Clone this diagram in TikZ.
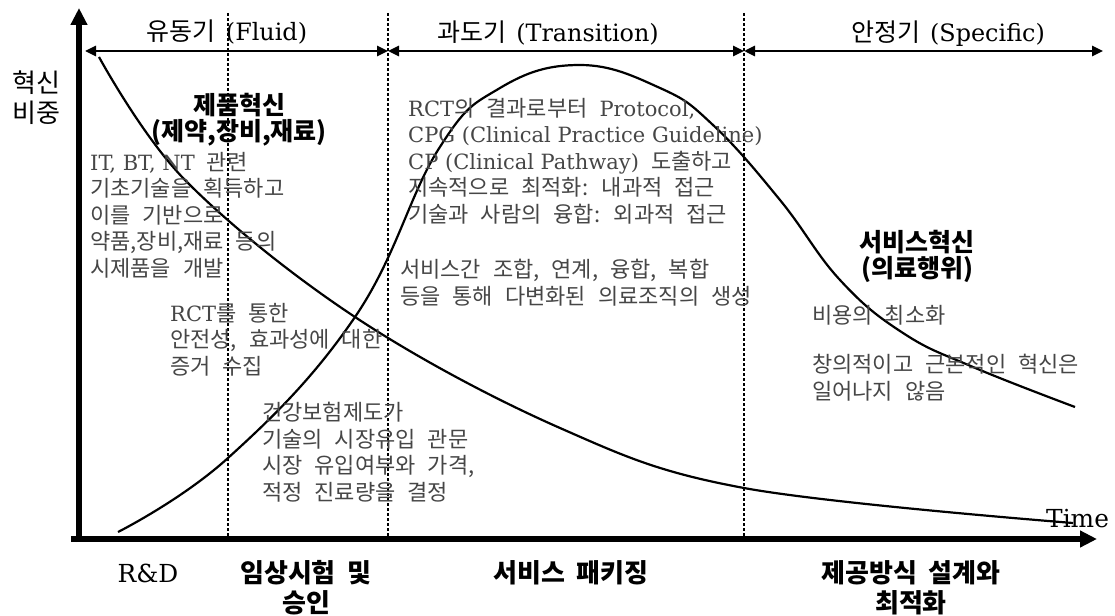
\documentclass[tikz,border=0pt]{standalone}
\usepackage{fontspec}
\setmainfont{Noto Sans CJK KR}
\newfontfamily\latfont{DejaVu Serif}[Scale=0.955]
\newcommand\lat[1]{{\latfont\spaceskip=0pt\relax #1}}
\newcommand\bodyfont{\fontsize{22}{26.5}\selectfont\spaceskip=12pt\relax}
\newcommand\headfont{\fontsize{25}{28}\selectfont\spaceskip=10pt\relax}
\newcommand\stagefont{\bfseries\fontsize{26}{30}\selectfont\spaceskip=12pt\relax}
\usetikzlibrary{arrows.meta,positioning}
\definecolor{textgray}{HTML}{464646}
\definecolor{inkblack}{HTML}{000000}

\begin{document}
\begin{tikzpicture}[
  x=1pt,y=-1pt,
  axis/.style={draw=inkblack,line width=5.5pt,-{Triangle[length=17pt,width=16pt]}},
  phase/.style={draw=inkblack,line width=2.6pt,
    {Triangle[length=11pt,width=10pt]}-{Triangle[length=11pt,width=10pt]}},
  divider/.style={draw=inkblack,line width=1.2pt,dash pattern=on 3pt off 2pt},
  curve/.style={draw=inkblack,line width=2.2pt},
  body/.style={font=\bodyfont,text=textgray,align=left,anchor=base west,inner sep=0pt},
  head/.style={font=\headfont,anchor=base,inner sep=0pt},
  ylab/.style={font=\fontsize{26}{29}\selectfont,align=center,anchor=base,inner sep=0pt},
  topic/.style={font=\bfseries\fontsize{25}{26}\selectfont,align=center,
    anchor=base,inner sep=0pt},
  stage/.style={font=\stagefont,align=center,anchor=base,inner sep=0pt}
]
\useasboundingbox (0,0) rectangle (1115,615);

% axes
\coordinate (xfrom) at (71,539);
\coordinate (xto) at (1097,539);
\coordinate (yfrom) at (79,542);
\coordinate (yto) at (79,8);
\draw[axis] (xfrom) -- (xto);
\draw[axis] (yfrom) -- (yto);

% phase boundaries
\foreach \x in {228,388,744}
  \draw[divider] (\x,13) -- (\x,536);

\coordinate (p0) at (85,51);
\coordinate (p1) at (388,51);
\coordinate (p2) at (744,51);
\coordinate (p3) at (1103,51);
\draw[phase] (p0) -- (p1);
\draw[phase] (p1) -- (p2);
\draw[phase] (p2) -- (p3);

\node[head] (fluid) at (227,41) {유동기 \lat{(Fluid)}};
\node[head] (trans) at (548,42) {과도기 \lat{(Transition)}};
\node[head] (spec) at (948,42) {안정기 \lat{(Specific)}};

% curves
\draw[curve] plot[smooth,tension=0.6] coordinates {
  (99,57) (185,180) (355,317) (560,428) (744,488) (1073,523)};
\draw[curve] plot[smooth,tension=0.7] coordinates {
  (118,532) (228,458) (355,317) (438,150) (500,88) (580,65) (660,88)
  (713,125) (780,200) (840,280) (903,333) (973,367) (1075,407)};

% labels
\node[ylab] (ylab) at (36,122) {혁신\\비중};
\node[topic] (prod) at (239,140) {제품혁신\\(제약,장비,재료)};
\node[body] (basic) at (90,276) {\lat{IT, BT, NT} 관련\\기초기술을 획득하고\\이를 기반으로\\약품,장비,재료 등의\\시제품을 개발};
\node[body] (rct) at (170,374) {\lat{RCT}를 통한\\안전성, 효과성에 대한\\증거 수집};
\node[body] (insur) at (262,500) {건강보험제도가\\기술의 시장유입 관문\\시장 유입여부와 가격,\\적정 진료량을 결정};
\node[body] (proto) at (408,222) {\lat{RCT}의 결과로부터 \lat{Protocol,}\\\lat{CPG (Clinical Practice Guideline)}\\\lat{CP (Clinical Pathway)} 도출하고\\지속적으로 최적화: 내과적 접근\\기술과 사람의 융합: 외과적 접근};
\node[body] (combo) at (400,304) {서비스간 조합, 연계, 융합, 복합\\등을 통해 다변화된 의료조직의 생성};
\node[topic] (svc) at (917,277) {서비스혁신\\(의료행위)};
\node[body] (cost) at (812,323) {비용의 최소화};
\node[body] (radical) at (812,399) {창의적이고 근본적인 혁신은\\일어나지 않음};

\node[stage] (rd) at (148,582) {\mdseries\lat{R\&D}};
\node[stage] (trial) at (306,612) {임상시험 및\\승인};
\node[stage] (pack) at (571,582) {서비스 패키징};
\node[stage] (design) at (911,612) {제공방식 설계와\\최적화};
\node[font=\fontsize{26}{28}\selectfont,anchor=base west,inner sep=0pt] (time) at (1046,527) {\lat{Time}};
\end{tikzpicture}
\end{document}
